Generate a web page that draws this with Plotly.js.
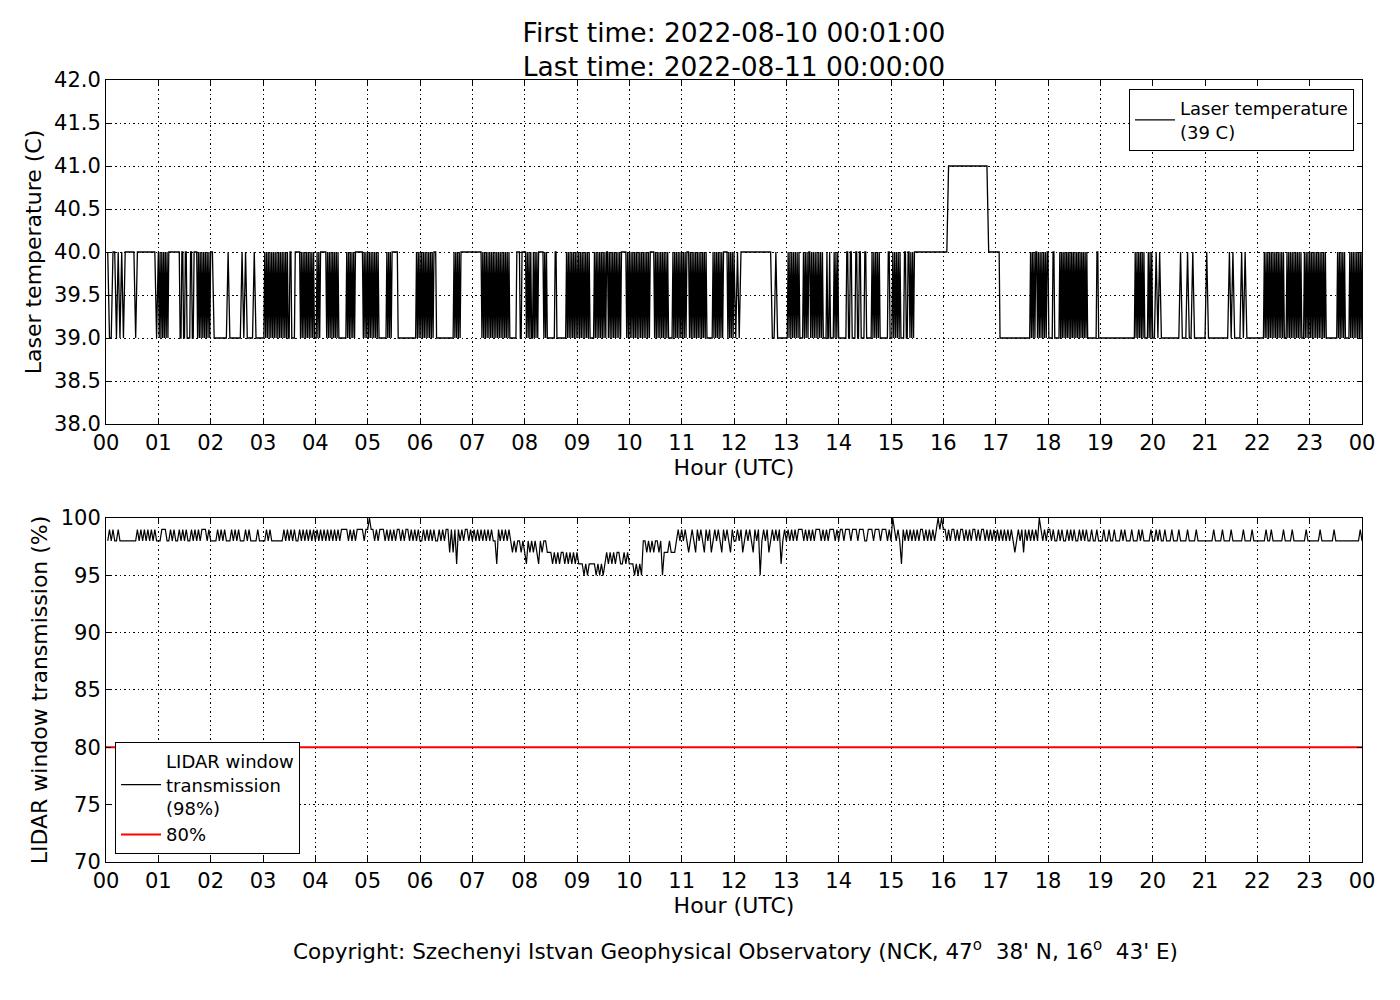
<!DOCTYPE html>
<html>
<head>
<meta charset="utf-8">
<script src="https://cdn.plot.ly/plotly-3.0.1.min.js"></script>
<style>
  body { margin: 0; background: #fff; }
</style>
</head>
<body>
<div id="plot" style="width:1400px;height:1000px"></div>
<script>
var firstTime = 'First time: 2022-08-10 00:01:00';
var lastTime = 'Last time: 2022-08-11 00:00:00';

var hourTicks = [0, 1, 2, 3, 4, 5, 6, 7, 8, 9, 10, 11, 12, 13, 14, 15, 16, 17, 18, 19, 20, 21, 22, 23, 24];
var hourLabels = ['00', '01', '02', '03', '04', '05', '06', '07', '08', '09', '10', '11',
                  '12', '13', '14', '15', '16', '17', '18', '19', '20', '21', '22', '23', '00'];

// laser temperature, one string per hour, each string spread evenly over its hour
// (30 chars = 2 min steps, ~60 chars = 1 min steps)
// 0 = 39 C, 1 = 40 C, 2 = 41 C
var laserHours = [
  '100110101011111101111111111101', // 00
  '010101010101' + '111111111111' + '00110011000011001111' + '0101010101010101', // 01
  '100000000100000001010000100000', // 02
  '0101010101010101010101010101' + '00110000' + '111111' + '0101010101010101' + '00', // 03
  '010101' + '111111' + '01010101010101' + '00000000' + '010101010101' + '11111111' + '010101', // 04
  '010101010101' + '00000000' + '01010101' + '111111' + '00000000000000000000' + '010101', // 05
  '0101010101010101' + '11' + '00000000000000000000' + '10101010' + '11111111111111', // 06
  '1111111111' + '01010101010101010101010101010101' + '00000000' + '1111' + '00' + '1111', // 07
  '10101010' + '01010101' + '11111' + '01010' + '0000000' + '0110' + '000000000' + '01010101010101', // 08
  '01010101010101' + '0000' + '010101010101010' + '11' + '010101010101010' + '111111' + '0101', // 09
  '010101010101010101010101' + '1111' + '0101010101010101' + '0000' + '010101010101', // 10
  '010101' + '11' + '01010101010101010101' + '000000' + '01010101010101' + '1111' + '01010101', // 11
  '010111111111111111111001000000', // 12
  '01010101010101' + '0000' + '101010' + '11' + '01010101010101' + '0000' + '1001' + '0000' + '101010', // 13
  '00000000' + '110011' + '0000' + '1100' + '110000' + '11' + '000000' + '1010101010' + '00000000' + '1100', // 14
  '0101010101' + '0000' + '110011' + '010101' + '11111111111111111111111111111111', // 15
  '112222222222222222222222211111', // 16
  '1111' + '0000000000000000000000000000000000' + '0101010110101010101011', // 17
  '0000' + '0110' + '0000' + '0101010101010101010101010101010101' + '00000000' + '00' + '0110' + '00', // 18
  '00000000000000000000000000000000000000' + '0101010101010' + '00' + '0101010', // 19
  '010100000000000100010010000000', // 20
  '100000000000010100001010000000', // 21
  '000000' + '010101010101010101010101' + '00' + '010101010101010101' + '00' + '01010101', // 22
  '010101010101010101' + '000000000000' + '0101010101' + '0000' + '0101010101010101' // 23
];
var laserLevels = { '0': 39, '1': 40, '2': 41 };

// LIDAR window transmission (%), one string per hour, one char per 2 minutes
// digit = percent - 90, X = 100
var lidarHours = [
  '898988988888888889898989898988', // 00
  '899988989889898988989898999898', // 01
  '888989898889898988898988889888', // 02
  '898988888889898989889898989898', // 03
  '989898989898989999898989999899', // 04
  'X99898999898989899898998989898', // 05
  '898989898898989979796989899898', // 06
  '989898989898869898989878788787', // 07
  '687878768788777676767767676767', // 08
  '666565666656565676767677667676', // 09
  '665656588787878878577787778989', // 10
  '898789879898798978989879898798', // 11
  '898978989879895898978989896898', // 12
  '989898999898989899989898999898', // 13
  '998999899989998899989998999898', // 14
  'X9898698989898989989898989X9X9', // 15
  '989899898998989899898998989898', // 16
  '989898989878989798989898X98989', // 17
  '989889898898989889898988988988', // 18
  '898898898889898889888989888898', // 19
  '898988988898889888898888988888', // 20
  '888898888988889888888988889888', // 21
  '888898898888889888898888888988', // 22
  '888889888888898888888888888898'  // 23
];

var thresholdValue = 80;

var laserName = 'Laser temperature<br>(39 C)';
var lidarName = 'LIDAR window<br>transmission<br>(98%)';
var thresholdName = '80%';
var copyright = "Copyright: Szechenyi Istvan Geophysical Observatory (NCK, 47<sup>o</sup>&nbsp;&nbsp;38' N, 16<sup>o</sup>&nbsp;&nbsp;43' E)";

function unpack(hours, decode) {
  var x = [], y = [];
  hours.forEach(function (s, h) {
    for (var i = 0; i < s.length; i++) {
      x.push(h + (i + 1) / s.length);
      y.push(decode(s[i]));
    }
  });
  return { x: x, y: y };
}

var laser = unpack(laserHours, function (c) { return laserLevels[c]; });
var lidar = unpack(lidarHours, function (c) { return c === 'X' ? 100 : 90 + Number(c); });

var traces = [
  {
    x: laser.x, y: laser.y,
    type: 'scatter', mode: 'lines',
    line: { color: '#000', width: 1.3 },
    name: laserName,
    xaxis: 'x', yaxis: 'y',
    legend: 'legend'
  },
  {
    x: lidar.x, y: lidar.y,
    type: 'scatter', mode: 'lines',
    line: { color: '#000', width: 1.2 },
    name: lidarName,
    xaxis: 'x2', yaxis: 'y2',
    legend: 'legend2'
  },
  {
    x: [hourTicks[0], hourTicks[hourTicks.length - 1]],
    y: [thresholdValue, thresholdValue],
    type: 'scatter', mode: 'lines',
    line: { color: '#ff0000', width: 2 },
    name: thresholdName,
    xaxis: 'x2', yaxis: 'y2',
    legend: 'legend2'
  }
];

function axis(extra) {
  var base = {
    showline: true,
    linecolor: '#000',
    linewidth: 1,
    mirror: 'allticks',
    ticks: 'inside',
    ticklen: 5,
    tickwidth: 1,
    tickcolor: '#000',
    showgrid: true,
    gridcolor: '#000',
    gridwidth: 1,
    griddash: '1.5px,3px',
    zeroline: false,
    tickfont: { size: 21, color: '#000' }
  };
  return Object.assign(base, extra);
}

function hourAxis(anchor) {
  return axis({
    anchor: anchor,
    range: [0, 24],
    tickvals: hourTicks,
    ticktext: hourLabels,
    title: { text: 'Hour (UTC)', font: { size: 22 }, standoff: 4 }
  });
}

var layout = {
  width: 1400,
  height: 1000,
  paper_bgcolor: '#fff',
  plot_bgcolor: '#fff',
  font: { family: 'DejaVu Sans', color: '#000' },
  margin: { l: 106, r: 38, t: 80, b: 138 },
  title: {
    text: firstTime + '<br>' + lastTime,
    x: 0.5, xref: 'paper', xanchor: 'center',
    y: 0.958, yref: 'container', yanchor: 'middle',
    font: { size: 26.5 }
  },
  showlegend: true,
  xaxis: hourAxis('y'),
  yaxis: axis({
    domain: [0.5601, 1],
    range: [38, 42],
    dtick: 0.5,
    tickformat: '.1f',
    title: { text: 'Laser temperature (C)', font: { size: 22 }, standoff: 6 }
  }),
  xaxis2: hourAxis('y2'),
  yaxis2: axis({
    domain: [0, 0.4399],
    range: [70, 100],
    dtick: 5,
    title: { text: 'LIDAR window transmission (%)', font: { size: 22 }, standoff: 6 }
  }),
  legend: {
    x: 0.9936, xanchor: 'right',
    y: 0.9885, yanchor: 'top',
    bgcolor: '#fff', bordercolor: '#000', borderwidth: 1,
    font: { size: 18 },
    itemwidth: 40
  },
  legend2: {
    x: 0.0072, xanchor: 'left',
    y: 0.0102, yanchor: 'bottom',
    bgcolor: '#fff', bordercolor: '#000', borderwidth: 1,
    font: { size: 18 },
    itemwidth: 40
  },
  annotations: [{
    xref: 'paper', yref: 'paper',
    x: 0.5008, y: -0.1125,
    xanchor: 'center', yanchor: 'middle',
    showarrow: false,
    font: { size: 21.5 },
    text: copyright
  }]
};

Plotly.newPlot('plot', traces, layout, { displayModeBar: false, staticPlot: true });
</script>
</body>
</html>
